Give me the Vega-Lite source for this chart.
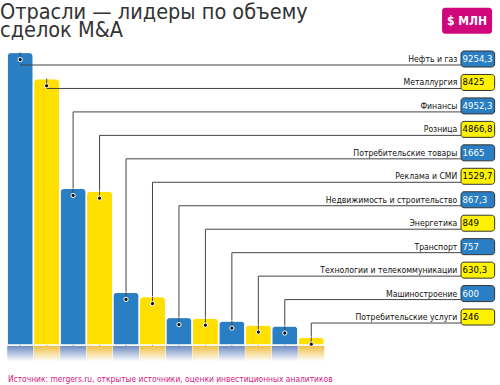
{
  "$schema": "https://vega.github.io/schema/vega-lite/v6.json",
  "width": 500,
  "height": 385,
  "padding": 0,
  "autosize": {"type": "fit", "contains": "padding"},
  "config": {
    "view": {"stroke": null},
    "axis": {"disable": true},
    "locale": {"number": {"decimal": ",", "thousands": " ", "grouping": [3], "currency": ["", ""]}}
  },
  "title": {
    "text": ["Отрасли — лидеры по объему", "сделок M&A"],
    "anchor": "start",
    "frame": "group",
    "offset": -41,
    "font": "DejaVu Sans Condensed",
    "fontSize": 21.5,
    "fontWeight": "normal",
    "color": "#333333",
    "lineHeight": 18
  },
  "data": {
    "values": [
      {"rank": 1, "label": "Нефть и газ", "value": 9254.3},
      {"rank": 2, "label": "Металлургия", "value": 8425},
      {"rank": 3, "label": "Финансы", "value": 4952.3},
      {"rank": 4, "label": "Розница", "value": 4866.8},
      {"rank": 5, "label": "Потребительские товары", "value": 1665},
      {"rank": 6, "label": "Реклама и СМИ", "value": 1529.7},
      {"rank": 7, "label": "Недвижимость и строительство", "value": 867.3},
      {"rank": 8, "label": "Энергетика", "value": 849},
      {"rank": 9, "label": "Транспорт", "value": 757},
      {"rank": 10, "label": "Технологии и телекоммуникации", "value": 630.3},
      {"rank": 11, "label": "Машиностроение", "value": 600},
      {"rank": 12, "label": "Потребительские услуги", "value": 246}
    ]
  },
  "resolve": {"scale": {"y": "independent"}},
  "layer": [
    {
      "mark": {"type": "rule", "color": "#444444", "strokeWidth": 1},
      "encoding": {
        "x": {"field": "rank", "type": "quantitative", "scale": {"domain": [0.426, 18.944], "zero": false, "nice": false}, "axis": null},
        "y": {"field": "label", "type": "nominal", "axis": null, "scale": {"type": "point", "domain": ["Нефть и газ", "Металлургия", "Финансы", "Розница", "Потребительские товары", "Реклама и СМИ", "Недвижимость и строительство", "Энергетика", "Транспорт", "Технологии и телекоммуникации", "Машиностроение", "Потребительские услуги", "_base"], "padding": 0, "range": [65, 346.5]}},
        "y2": {"datum": "_base"}
      }
    },
    {
      "mark": {"type": "bar", "width": 26, "cornerRadiusTopLeft": 4, "cornerRadiusTopRight": 4, "stroke": "white", "strokeWidth": 1},
      "encoding": {
        "x": {"field": "rank", "type": "quantitative", "axis": null},
        "y": {"field": "value", "type": "quantitative", "axis": null, "scale": {"domain": [-1266, 10918], "zero": false, "nice": false}},
        "color": {"condition": {"test": "datum.rank % 2 === 1", "value": "#2a7fc4"}, "value": "#ffe000"}
      }
    },
    {
      "transform": [{"filter": "datum.rank % 2 === 1"}],
      "mark": {"type": "bar", "width": 26, "color": {"gradient": "linear", "x1": 0, "y1": 0, "x2": 0, "y2": 1, "stops": [{"offset": 0, "color": "#6d8cc4"}, {"offset": 1, "color": "#ffffff"}]}},
      "encoding": {
        "x": {"field": "rank", "type": "quantitative", "axis": null},
        "y": {"datum": -30, "type": "quantitative", "axis": null, "scale": {"domain": [-1266, 10918], "zero": false, "nice": false}},
        "y2": {"datum": -520}
      }
    },
    {
      "transform": [{"filter": "datum.rank % 2 === 0"}],
      "mark": {"type": "bar", "width": 26, "color": {"gradient": "linear", "x1": 0, "y1": 0, "x2": 0, "y2": 1, "stops": [{"offset": 0, "color": "#efbf45"}, {"offset": 1, "color": "#ffffff"}]}},
      "encoding": {
        "x": {"field": "rank", "type": "quantitative", "axis": null},
        "y": {"datum": -30, "type": "quantitative", "axis": null, "scale": {"domain": [-1266, 10918], "zero": false, "nice": false}},
        "y2": {"datum": -520}
      }
    },
    {
      "mark": {"type": "rule", "color": "#444444", "strokeWidth": 1, "y2Offset": 7},
      "encoding": {
        "x": {"field": "rank", "type": "quantitative", "axis": null},
        "y": {"field": "value", "type": "quantitative", "axis": null, "scale": {"domain": [-1266, 10918], "zero": false, "nice": false}},
        "y2": {"field": "value"}
      }
    },
    {
      "mark": {"type": "point", "filled": true, "size": 18, "color": "#111111", "stroke": "white", "strokeWidth": 1, "opacity": 1, "yOffset": 7},
      "encoding": {
        "x": {"field": "rank", "type": "quantitative", "axis": null},
        "y": {"field": "value", "type": "quantitative", "axis": null, "scale": {"domain": [-1266, 10918], "zero": false, "nice": false}}
      }
    },
    {
      "mark": {"type": "rule", "color": "#444444", "strokeWidth": 1},
      "encoding": {
        "x": {"field": "rank", "type": "quantitative", "axis": null},
        "x2": {"datum": 17.66},
        "y": {"field": "label", "type": "nominal", "axis": null, "scale": {"type": "point", "domain": ["Нефть и газ", "Металлургия", "Финансы", "Розница", "Потребительские товары", "Реклама и СМИ", "Недвижимость и строительство", "Энергетика", "Транспорт", "Технологии и телекоммуникации", "Машиностроение", "Потребительские услуги", "_base"], "padding": 0, "range": [65, 346.5]}}
      }
    },
    {
      "mark": {"type": "text", "align": "right", "baseline": "middle", "dy": -6, "font": "DejaVu Sans Condensed", "fontSize": 8.6, "color": "#111111"},
      "encoding": {
        "x": {"datum": 17.52, "axis": null},
        "y": {"field": "label", "type": "nominal", "axis": null, "scale": {"type": "point", "domain": ["Нефть и газ", "Металлургия", "Финансы", "Розница", "Потребительские товары", "Реклама и СМИ", "Недвижимость и строительство", "Энергетика", "Транспорт", "Технологии и телекоммуникации", "Машиностроение", "Потребительские услуги", "_base"], "padding": 0, "range": [65, 346.5]}},
        "text": {"field": "label"}
      }
    },
    {
      "mark": {"type": "bar", "height": 16, "cornerRadius": 3, "stroke": "#333333", "strokeWidth": 1, "yOffset": -6},
      "encoding": {
        "x": {"datum": 17.66, "axis": null},
        "x2": {"datum": 18.93},
        "y": {"field": "label", "type": "nominal", "axis": null, "scale": {"type": "point", "domain": ["Нефть и газ", "Металлургия", "Финансы", "Розница", "Потребительские товары", "Реклама и СМИ", "Недвижимость и строительство", "Энергетика", "Транспорт", "Технологии и телекоммуникации", "Машиностроение", "Потребительские услуги", "_base"], "padding": 0, "range": [65, 346.5]}},
        "color": {"condition": {"test": "datum.rank % 2 === 1", "value": "#2a7fc4"}, "value": "#fff200"}
      }
    },
    {
      "mark": {"type": "text", "align": "left", "baseline": "middle", "dy": -6, "font": "DejaVu Sans Condensed", "fontSize": 9.5, "fontWeight": "normal"},
      "encoding": {
        "x": {"datum": 17.72, "axis": null},
        "y": {"field": "label", "type": "nominal", "axis": null, "scale": {"type": "point", "domain": ["Нефть и газ", "Металлургия", "Финансы", "Розница", "Потребительские товары", "Реклама и СМИ", "Недвижимость и строительство", "Энергетика", "Транспорт", "Технологии и телекоммуникации", "Машиностроение", "Потребительские услуги", "_base"], "padding": 0, "range": [65, 346.5]}},
        "text": {"field": "value", "type": "quantitative", "format": "~g"},
        "color": {"condition": {"test": "datum.rank % 2 === 1", "value": "white"}, "value": "black"}
      }
    },
    {
      "data": {"values": [{"unit": "$ МЛН"}]},
      "layer": [
        {
          "mark": {"type": "bar", "height": 26, "cornerRadius": 3, "color": "#d0077a"},
          "encoding": {
            "x": {"datum": 16.944, "axis": null},
            "x2": {"datum": 18.833},
            "y": {"datum": 10410, "type": "quantitative", "axis": null, "scale": {"domain": [-1266, 10918], "zero": false, "nice": false}}
          }
        },
        {
          "mark": {"type": "text", "align": "center", "baseline": "middle", "font": "DejaVu Sans Condensed", "fontSize": 12, "fontWeight": "bold", "color": "white"},
          "encoding": {
            "x": {"datum": 17.889, "axis": null},
            "y": {"datum": 10410, "type": "quantitative", "axis": null, "scale": {"domain": [-1266, 10918], "zero": false, "nice": false}},
            "text": {"field": "unit"}
          }
        }
      ]
    },
    {
      "data": {"values": [{"source": "Источник: mergers.ru, открытые источники, оценки инвестиционных аналитиков"}]},
      "mark": {"type": "text", "align": "left", "baseline": "middle", "font": "DejaVu Sans Condensed", "fontSize": 8.4, "color": "#d4177f"},
      "encoding": {
        "x": {"datum": 0.537, "axis": null},
        "y": {"datum": -1076, "type": "quantitative", "axis": null, "scale": {"domain": [-1266, 10918], "zero": false, "nice": false}},
        "text": {"field": "source"}
      }
    }
  ]
}
